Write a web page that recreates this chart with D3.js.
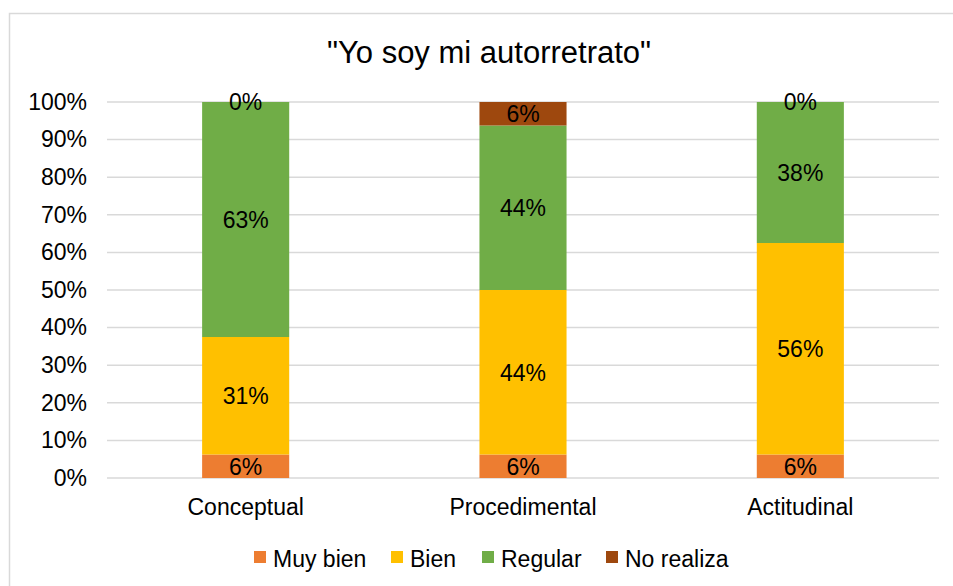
<!DOCTYPE html>
<html><head><meta charset="utf-8">
<script src="https://cdn.jsdelivr.net/npm/d3@7"></script>
<style>body{margin:0;background:#fff}svg{display:block;font-family:"Liberation Sans",Arial,sans-serif}</style>
</head><body>
<svg id="c" width="953" height="586"></svg>
<script>
const title = '"Yo soy mi autorretrato"';
const categories = ["Conceptual", "Procedimental", "Actitudinal"];
const seriesNames = ["Muy bien", "Bien", "Regular", "No realiza"];
const muyBien = [6.25, 6.25, 6.25];
const bien = [31.25, 43.75, 56.25];
const regular = [62.5, 43.75, 37.5];
const noRealiza = [0, 6.25, 0];
const colors = ["#ED7D31", "#FFC000", "#70AD47", "#9E480E"];
const yTicks = [0, 10, 20, 30, 40, 50, 60, 70, 80, 90, 100];

const svg = d3.select("#c");
svg.append("rect").attr("x", 9.5).attr("y", 13.5).attr("width", 960).attr("height", 600)
  .attr("fill", "#fff").attr("stroke", "#d9d9d9").attr("stroke-width", 1.5);

const m = {left: 107, right: 939, top: 102, bottom: 478};
const x = d3.scaleBand().domain(categories).range([m.left, m.right]).paddingInner(0.686).paddingOuter(0.343);
const y = d3.scaleLinear().domain([0, 100]).range([m.bottom, m.top]);

// gridlines
svg.append("g").selectAll("line").data(yTicks).join("line")
  .attr("x1", m.left).attr("x2", m.right)
  .attr("y1", d => y(d)).attr("y2", d => y(d))
  .attr("stroke", "#d9d9d9").attr("stroke-width", 1.5);

// y axis labels
const yAxis = d3.axisLeft(y).tickValues(yTicks).tickFormat(d => d + "%").tickSize(0).tickPadding(20);
const ya = svg.append("g").attr("transform", `translate(${m.left},0)`).call(yAxis);
ya.select(".domain").remove();
ya.selectAll("text").attr("font-size", 23).attr("fill", "#000").attr("font-family", "Liberation Sans, Arial, sans-serif");

// stacked data
const rows = categories.map((c, i) => ({cat: c, "Muy bien": muyBien[i], "Bien": bien[i], "Regular": regular[i], "No realiza": noRealiza[i]}));
const stack = d3.stack().keys(seriesNames)(rows);

const g = svg.append("g");
stack.forEach((s, si) => {
  g.append("g").selectAll("rect").data(s).join("rect")
    .attr("x", d => x(d.data.cat)).attr("width", x.bandwidth())
    .attr("y", d => y(d[1])).attr("height", d => y(d[0]) - y(d[1]))
    .attr("fill", colors[si]);
});
stack.forEach((s, si) => {
  g.append("g").selectAll("text").data(s).join("text")
    .attr("x", d => x(d.data.cat) + x.bandwidth() / 2)
    .attr("y", d => (y(d[0]) + y(d[1])) / 2)
    .attr("dy", "0.36em")
    .attr("text-anchor", "middle").attr("font-size", 23).attr("fill", "#000")
    .text(d => Math.round(d[1] - d[0]) + "%");
});

// x axis labels
const xAxis = d3.axisBottom(x).tickSize(0).tickPadding(21);
const xa = svg.append("g").attr("transform", `translate(0,${m.bottom})`).call(xAxis);
xa.select(".domain").remove();
xa.selectAll("text").attr("font-size", 23).attr("fill", "#000").attr("font-family", "Liberation Sans, Arial, sans-serif");

// title
svg.append("text").attr("x", 489).attr("y", 63).attr("text-anchor", "middle")
  .attr("font-size", 31).attr("fill", "#000").text(title);

// legend
const legX = [254, 391, 482, 606];
const lg = svg.append("g").selectAll("g").data(seriesNames).join("g")
  .attr("transform", (d, i) => `translate(${legX[i]},551)`);
lg.append("rect").attr("width", 12).attr("height", 12).attr("fill", (d, i) => colors[i]);
lg.append("text").attr("x", 19).attr("y", 16).attr("font-size", 23).attr("fill", "#000").text(d => d);
</script>
</body></html>
